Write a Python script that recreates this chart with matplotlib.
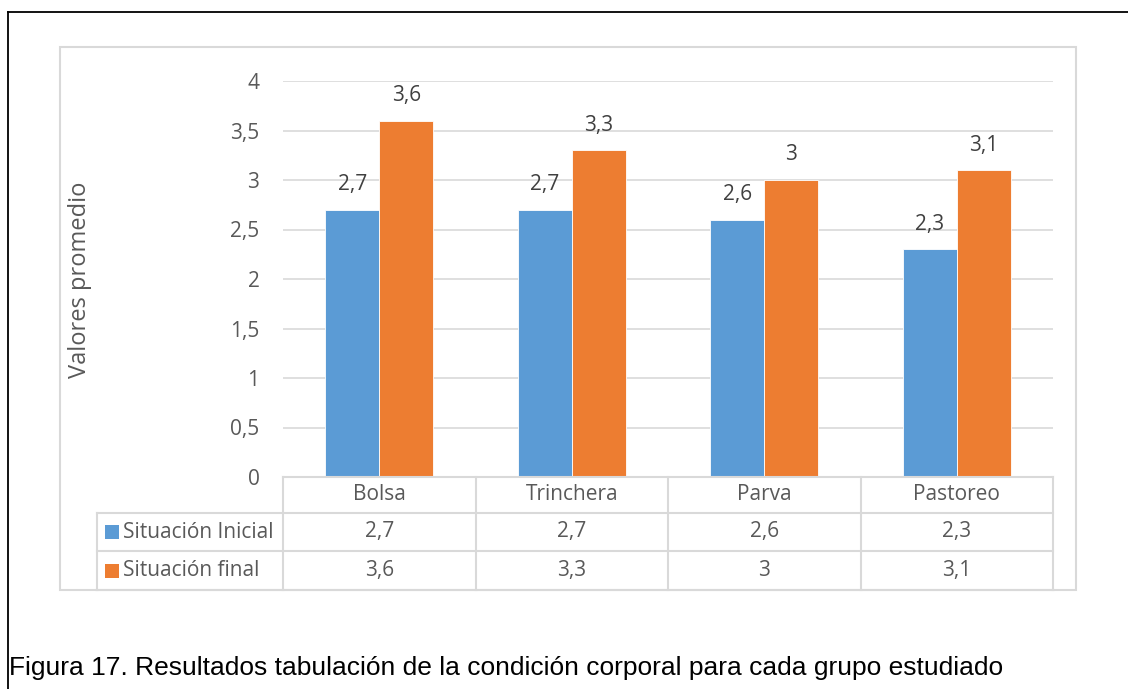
import matplotlib
matplotlib.use("Agg")
import numpy as np
from matplotlib import pyplot as plt
from matplotlib.lines import Line2D
from matplotlib.patches import Rectangle
from matplotlib.transforms import blended_transform_factory

categories = ["Bolsa", "Trinchera", "Parva", "Pastoreo"]
series_names = ["Situación Inicial", "Situación final"]
inicial = [2.7, 2.7, 2.6, 2.3]
final = [3.6, 3.3, 3.0, 3.1]
y_ticks = [0, 0.5, 1, 1.5, 2, 2.5, 3, 3.5, 4]

BLUE = "#5B9BD5"
ORANGE = "#ED7D31"
GRID = "#D9D9D9"
TEXT = "#595959"
FS = 15

W, H = 1128, 689


def fmt(v):
    # decimal comma, no trailing zero
    return ("%g" % v).replace(".", ",")


def fx(x):
    return x / W


def fy(y):
    return 1 - y / H


fig = plt.figure(figsize=(W / 100, H / 100), dpi=100)
fig.patch.set_facecolor("white")
plt.rcParams["font.family"] = ["Open Sans", "DejaVu Sans"]

# plot area: value 0 at y=477, value 4 at y=81, categories from x=283 to 1053
ax = fig.add_axes([fx(283), fy(477), fx(1053 - 283), (477 - 81) / H])
ax.set_xlim(-0.5, len(categories) - 0.5)
ax.set_ylim(0, 4)

x = np.arange(len(categories))
bw = 0.28
ax.bar(x - bw / 2, inicial, bw, color=BLUE, edgecolor="white", linewidth=0.6, zorder=3)
ax.bar(x + bw / 2, final, bw, color=ORANGE, edgecolor="white", linewidth=0.6, zorder=3)

for xi, v in zip(x - bw / 2, inicial):
    ax.annotate(fmt(v), (xi, v), xytext=(0, 18), textcoords="offset points",
                ha="center", va="center", fontsize=FS, color="#404040")
for xi, v in zip(x + bw / 2, final):
    ax.annotate(fmt(v), (xi, v), xytext=(0, 18), textcoords="offset points",
                ha="center", va="center", fontsize=FS, color="#404040")

ax.set_yticks(y_ticks)
ax.set_yticklabels([fmt(t) for t in y_ticks], fontsize=FS, color=TEXT)
ax.tick_params(axis="y", length=0, pad=17)
ax.set_xticks([])
for s in ax.spines.values():
    s.set_visible(False)
ax.grid(axis="y", color=GRID, linewidth=1.2, zorder=0)
ax.set_axisbelow(True)

fig.text(fx(80), fy(280), "Valores promedio", rotation=90, ha="center", va="center",
         fontsize=17, color=TEXT)

# data table under the axis
tr = blended_transform_factory(ax.transData, fig.transFigure)
edges = np.arange(len(categories) + 1) - 0.5
rows = [477, 513, 551, 590]
leg_left = ax.transData.inverted().transform((fx(97) * W, 0))[0]
left_edge = -0.5
for i, yr in enumerate(rows):
    x0 = left_edge if i == 0 else leg_left
    fig.add_artist(Line2D([x0, edges[-1]], [fy(yr), fy(yr)], transform=tr,
                          color=GRID, linewidth=1.5))
for e in edges:
    fig.add_artist(Line2D([e, e], [fy(rows[0]), fy(rows[-1])], transform=tr,
                          color=GRID, linewidth=1.5))
fig.add_artist(Line2D([leg_left, leg_left], [fy(rows[1]), fy(rows[-1])], transform=tr,
                      color=GRID, linewidth=1.5))

for xi, c in zip(x, categories):
    fig.text(xi, fy((rows[0] + rows[1]) / 2), c, transform=tr, ha="center", va="center",
             fontsize=FS, color=TEXT)
for r, (name, vals, col) in enumerate(zip(series_names, [inicial, final], [BLUE, ORANGE])):
    yc = fy((rows[r + 1] + rows[r + 2]) / 2)
    for xi, v in zip(x, vals):
        fig.text(xi, yc, fmt(v), transform=tr, ha="center", va="center",
                 fontsize=FS, color=TEXT)
    fig.add_artist(Rectangle((fx(105), yc - 7 / H), 14 / W, 14 / H,
                             transform=fig.transFigure, color=col, linewidth=0))
    fig.text(fx(123), yc, name, ha="left", va="center", fontsize=FS, color=TEXT)

# chart frame
fig.add_artist(Rectangle((fx(60), fy(590)), fx(1076 - 60), (590 - 47) / H,
                         transform=fig.transFigure, fill=False, edgecolor=GRID,
                         linewidth=1.5))

# outer page border
fig.add_artist(Line2D([fx(8), fx(8)], [0, fy(12)], transform=fig.transFigure,
                      color="black", linewidth=1.3))
fig.add_artist(Line2D([fx(8), 1], [fy(12), fy(12)], transform=fig.transFigure,
                      color="black", linewidth=1.3))

fig.text(fx(9), fy(668), "Figura 17. Resultados tabulación de la condición corporal para cada grupo estudiado",
         family="Liberation Sans", fontsize=19, color="black", ha="left", va="center")

fig.savefig("out.png", dpi=100)
